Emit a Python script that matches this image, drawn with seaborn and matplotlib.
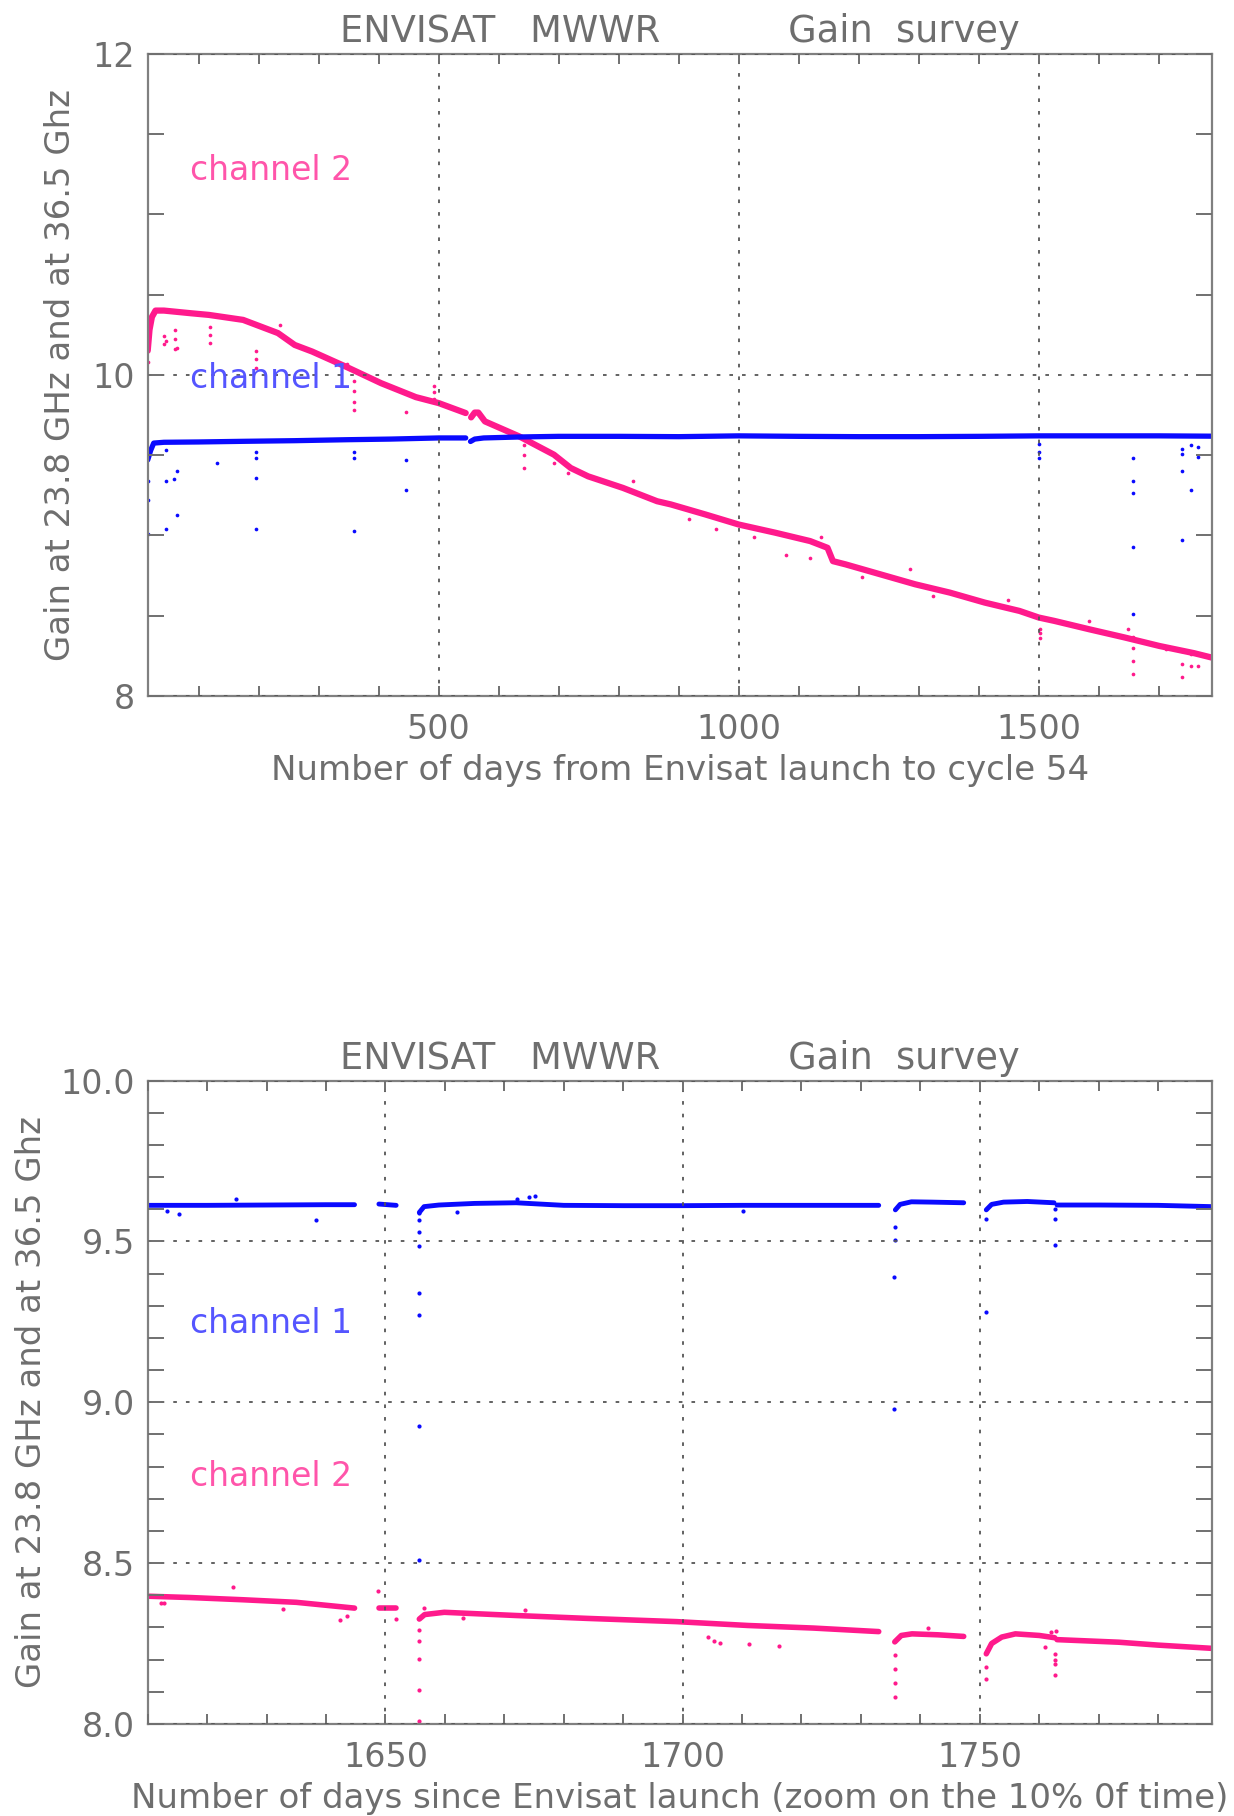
import numpy as np
import pandas as pd
import matplotlib
matplotlib.use("Agg")
import matplotlib.pyplot as plt
import seaborn as sns
from matplotlib.ticker import MultipleLocator, FormatStrFormatter

# ---------------- data ----------------
# Top panel: full mission, channel 1 (blue) and channel 2 (pink)
ch1_top_seg1_days = [15, 20, 25, 42, 100, 174, 260, 347, 420, 500, 545]
ch1_top_seg1_vals = [9.47, 9.53, 9.575, 9.58, 9.582, 9.586, 9.59, 9.596, 9.60, 9.607, 9.607]
ch1_top_seg2_days = [553, 560, 575, 634, 700, 800, 900, 1000, 1100, 1200, 1300, 1400, 1500, 1600, 1700, 1788]
ch1_top_seg2_vals = [9.585, 9.60, 9.607, 9.613, 9.617, 9.617, 9.615, 9.62, 9.617, 9.615, 9.615, 9.617, 9.62, 9.62, 9.62, 9.618]

ch2_top_seg1_days = [15, 18, 22, 28, 42, 88, 117, 174, 232, 260, 289, 347, 404, 462, 500, 545]
ch2_top_seg1_vals = [10.15, 10.28, 10.36, 10.40, 10.40, 10.383, 10.373, 10.342, 10.26, 10.186,
                     10.145, 10.048, 9.948, 9.861, 9.824, 9.762]
ch2_top_seg2_days = [554, 560, 566, 577, 634, 692, 720, 749, 807, 864, 887, 945, 1000, 1061, 1119, 1148,
                     1157, 1178, 1236, 1294, 1352, 1410, 1468, 1500, 1526, 1584, 1643, 1701, 1759, 1788]
ch2_top_seg2_vals = [9.735, 9.765, 9.765, 9.71, 9.617, 9.503, 9.42, 9.368, 9.296, 9.213, 9.193, 9.13,
                     9.068, 9.017, 8.965, 8.923, 8.84, 8.82, 8.758, 8.696, 8.644, 8.582, 8.53, 8.489,
                     8.468, 8.416, 8.365, 8.312, 8.267, 8.24]

ch1_top_out_days = [15, 15, 15, 46, 46, 46, 59, 63, 64, 130, 196, 196, 196, 196, 359, 359, 359,
                    446, 446, 1500, 1500, 1500, 1657, 1657, 1657, 1657, 1657, 1739, 1739, 1739,
                    1739, 1753, 1753, 1765, 1765]
ch1_top_out_vals = [9.34, 9.22, 9.01, 9.53, 9.34, 9.04, 9.35, 9.13, 9.40, 9.45, 9.52, 9.48, 9.36,
                    9.04, 9.52, 9.48, 9.03, 9.47, 9.28, 9.57, 9.52, 9.48, 9.48, 9.34, 9.266, 8.925,
                    8.51, 9.54, 9.51, 9.40, 8.97, 9.56, 9.28, 9.55, 9.49]

ch2_top_out_days = [16, 42, 42, 46, 60, 60, 60, 63, 118, 118, 118, 196, 196, 196, 236, 347, 359,
                    359, 359, 359, 446, 492, 492, 492, 642, 642, 642, 692, 715, 824, 917, 962,
                    1026, 1078, 1119, 1137, 1206, 1285, 1323, 1449, 1502, 1502, 1502, 1584, 1649,
                    1657, 1657, 1657, 1657, 1712, 1739, 1739, 1739, 1753, 1753, 1765, 1765]
ch2_top_out_vals = [10.08, 10.24, 10.19, 10.21, 10.28, 10.22, 10.16, 10.17, 10.30, 10.25, 10.20,
                    10.15, 10.10, 10.04, 10.31, 10.07, 9.96, 9.90, 9.83, 9.78, 9.77, 9.93, 9.89,
                    9.85, 9.56, 9.50, 9.42, 9.45, 9.39, 9.337, 9.10, 9.04, 8.99, 8.88, 8.86, 8.99,
                    8.74, 8.79, 8.625, 8.60, 8.42, 8.39, 8.36, 8.47, 8.42, 8.37, 8.30, 8.22, 8.14,
                    8.29, 8.28, 8.20, 8.12, 8.26, 8.19, 8.26, 8.19]

# Bottom panel: zoom on days 1610-1789
ch1_bot_segs_days = [[1610, 1620, 1630, 1640, 1644.8],
                     [1648.9, 1651.8],
                     [1655.7, 1656.5, 1659, 1665, 1672, 1680, 1690, 1700, 1710, 1720, 1733],
                     [1735.8, 1736.6, 1738.5, 1742, 1747.3],
                     [1751.1, 1752, 1754, 1758, 1762.5],
                     [1763, 1770, 1780, 1789]]
ch1_bot_segs_vals = [[9.612, 9.612, 9.613, 9.614, 9.614],
                     [9.616, 9.612],
                     [9.59, 9.608, 9.613, 9.618, 9.62, 9.612, 9.611, 9.611, 9.612, 9.612, 9.612],
                     [9.598, 9.615, 9.623, 9.622, 9.62],
                     [9.598, 9.615, 9.622, 9.624, 9.62],
                     [9.613, 9.613, 9.612, 9.608]]

ch2_bot_segs_days = [[1610, 1617, 1626, 1635, 1644.8],
                     [1648.9, 1651.8],
                     [1655.7, 1656.6, 1659.9, 1672, 1684, 1699, 1711, 1722, 1733],
                     [1735.7, 1736.8, 1738.6, 1743, 1747.3],
                     [1751.1, 1752, 1753.7, 1756, 1760, 1762.6],
                     [1763, 1773.4, 1780, 1789]]
ch2_bot_segs_vals = [[8.397, 8.393, 8.386, 8.378, 8.36],
                     [8.36, 8.36],
                     [8.326, 8.34, 8.347, 8.337, 8.328, 8.318, 8.306, 8.298, 8.287],
                     [8.255, 8.275, 8.28, 8.277, 8.272],
                     [8.218, 8.25, 8.27, 8.28, 8.275, 8.268],
                     [8.262, 8.254, 8.245, 8.235]]

ch1_bot_out_days = [1613.3, 1615.2, 1624.8, 1638.4, 1655.6, 1655.6, 1655.6, 1655.6, 1655.6, 1655.6,
                    1655.6, 1655.6, 1662, 1672.2, 1674.1, 1675.1, 1710.2, 1735.8, 1735.8, 1735.6,
                    1735.6, 1751, 1751, 1762.6, 1762.6, 1762.6]
ch1_bot_out_vals = [9.595, 9.585, 9.632, 9.567, 9.588, 9.567, 9.528, 9.485, 9.34, 9.27, 8.925, 8.51,
                    9.592, 9.632, 9.637, 9.64, 9.593, 9.545, 9.505, 9.39, 8.98, 9.57, 9.28, 9.60,
                    9.57, 9.49]

ch2_bot_out_days = [1612.3, 1612.8, 1624.4, 1632.7, 1642.4, 1643.5, 1648.7, 1651.8, 1655.6, 1655.6,
                    1655.6, 1655.6, 1655.6, 1656.5, 1663, 1673.4, 1704.3, 1705.3, 1706.3, 1711.2,
                    1716.3, 1735.7, 1735.7, 1735.7, 1735.7, 1741.3, 1751, 1751, 1760.9, 1762,
                    1762.9, 1762.7, 1762.7, 1762.7, 1762.7]
ch2_bot_out_vals = [8.375, 8.375, 8.425, 8.357, 8.324, 8.335, 8.414, 8.326, 8.293, 8.257, 8.202,
                    8.104, 8.01, 8.36, 8.328, 8.354, 8.27, 8.259, 8.252, 8.249, 8.241, 8.213,
                    8.171, 8.127, 8.083, 8.297, 8.176, 8.14, 8.238, 8.287, 8.29, 8.218, 8.20,
                    8.187, 8.153]

title_text = "ENVISAT   MWWR           Gain  survey"
ylabel_text = "Gain at 23.8 GHz and at 36.5 Ghz"
xlabel_top = "Number of days from Envisat launch to cycle 54"
xlabel_bot = "Number of days since Envisat launch (zoom on the 10% 0f time)"

# ---------------- styling ----------------
sns.set_style("white")
plt.rcParams["font.family"] = ["DejaVu Sans"]

BLUE = "#0a0aff"
PINK = "#ff1a8c"
BLUE_TXT = "#5555ff"
PINK_TXT = "#ff55aa"
GRAY = "#6e6e6e"
FS_LAB = 24.5
FS_TICK = 24
FS_TXT = 23.8
FS_TITLE = 26.5


def segments_frame(days_list, vals_list):
    rows = []
    for i, (ds, vs) in enumerate(zip(days_list, vals_list)):
        for d, v in zip(ds, vs):
            rows.append((i, d, v))
    return pd.DataFrame(rows, columns=["seg", "day", "gain"])


def style_axes(ax, xmaj, xmin, ymaj, ymin, yfmt):
    ax.set_facecolor("white")
    for s in ax.spines.values():
        s.set_visible(True)
        s.set_color("#808080")
        s.set_linewidth(1.6)
    ax.xaxis.set_major_locator(MultipleLocator(xmaj))
    ax.xaxis.set_minor_locator(MultipleLocator(xmin))
    ax.yaxis.set_major_locator(MultipleLocator(ymaj))
    ax.yaxis.set_minor_locator(MultipleLocator(ymin))
    ax.yaxis.set_major_formatter(FormatStrFormatter(yfmt))
    ax.tick_params(axis="x", which="both", direction="in", length=7, width=1.4,
                   color="#707070", top=True, bottom=True, labelsize=FS_TICK,
                   labelcolor=GRAY, pad=12)
    ax.tick_params(axis="y", which="both", direction="in", length=11.5, width=1.4,
                   color="#707070", left=True, right=True, labelsize=FS_TICK,
                   labelcolor=GRAY, pad=9)
    ax.grid(True, which="major", color="#555555", linestyle=(0, (2, 5)), linewidth=1.3)
    ax.set_axisbelow(False)


fig = plt.figure(figsize=(12.34, 18.16), dpi=100)
ax1 = fig.add_axes([0.1197, 0.6167, 0.8621, 0.3538])
ax2 = fig.add_axes([0.1197, 0.0507, 0.8621, 0.3543])

# ---- top panel ----
top1 = segments_frame([ch1_top_seg1_days, ch1_top_seg2_days], [ch1_top_seg1_vals, ch1_top_seg2_vals])
top2 = segments_frame([ch2_top_seg1_days, ch2_top_seg2_days], [ch2_top_seg1_vals, ch2_top_seg2_vals])
sns.lineplot(data=top2, x="day", y="gain", units="seg", estimator=None, color=PINK,
             linewidth=4.5, ax=ax1, legend=False)
sns.lineplot(data=top1, x="day", y="gain", units="seg", estimator=None, color=BLUE,
             linewidth=3.8, ax=ax1, legend=False)
sns.scatterplot(x=ch2_top_out_days, y=ch2_top_out_vals, color=PINK, s=7, linewidth=0, ax=ax1,
                legend=False)
sns.scatterplot(x=ch1_top_out_days, y=ch1_top_out_vals, color=BLUE, s=7, linewidth=0, ax=ax1,
                legend=False)
ax1.set_xlim(15, 1788)
ax1.set_ylim(8, 12)
style_axes(ax1, 500, 100, 2, 0.5, "%d")
ax1.text(86, 11.27, "channel 2", color=PINK_TXT, fontsize=FS_TXT, va="center", ha="left")
ax1.text(86, 9.98, "channel 1", color=BLUE_TXT, fontsize=FS_TXT, va="center", ha="left")
ax1.set_title(title_text, fontsize=FS_TITLE, color=GRAY, pad=8)
ax1.set_xlabel(xlabel_top, fontsize=FS_LAB, color=GRAY)
ax1.set_ylabel(ylabel_text, fontsize=FS_LAB, color=GRAY)
ax1.xaxis.set_label_coords(0.5, -0.09)
ax1.yaxis.set_label_coords(-0.066, 0.5)

# ---- bottom panel ----
bot1 = segments_frame(ch1_bot_segs_days, ch1_bot_segs_vals)
bot2 = segments_frame(ch2_bot_segs_days, ch2_bot_segs_vals)
sns.lineplot(data=bot2, x="day", y="gain", units="seg", estimator=None, color=PINK,
             linewidth=4.0, ax=ax2, legend=False)
sns.lineplot(data=bot1, x="day", y="gain", units="seg", estimator=None, color=BLUE,
             linewidth=3.5, ax=ax2, legend=False)
sns.scatterplot(x=ch2_bot_out_days, y=ch2_bot_out_vals, color=PINK, s=9, linewidth=0, ax=ax2,
                legend=False)
sns.scatterplot(x=ch1_bot_out_days, y=ch1_bot_out_vals, color=BLUE, s=9, linewidth=0, ax=ax2,
                legend=False)
ax2.set_xlim(1610, 1789)
ax2.set_ylim(8.0, 10.0)
style_axes(ax2, 50, 10, 0.5, 0.1, "%.1f")
ax2.text(1617.1, 9.246, "channel 1", color=BLUE_TXT, fontsize=FS_TXT, va="center", ha="left")
ax2.text(1617.1, 8.77, "channel 2", color=PINK_TXT, fontsize=FS_TXT, va="center", ha="left")
ax2.set_title(title_text, fontsize=FS_TITLE, color=GRAY, pad=8)
ax2.set_xlabel(xlabel_bot, fontsize=FS_LAB, color=GRAY)
ax2.set_ylabel(ylabel_text, fontsize=FS_LAB, color=GRAY)
ax2.xaxis.set_label_coords(0.5, -0.09)
ax2.yaxis.set_label_coords(-0.094, 0.5)

fig.savefig("out.png", dpi=100, facecolor="white")
